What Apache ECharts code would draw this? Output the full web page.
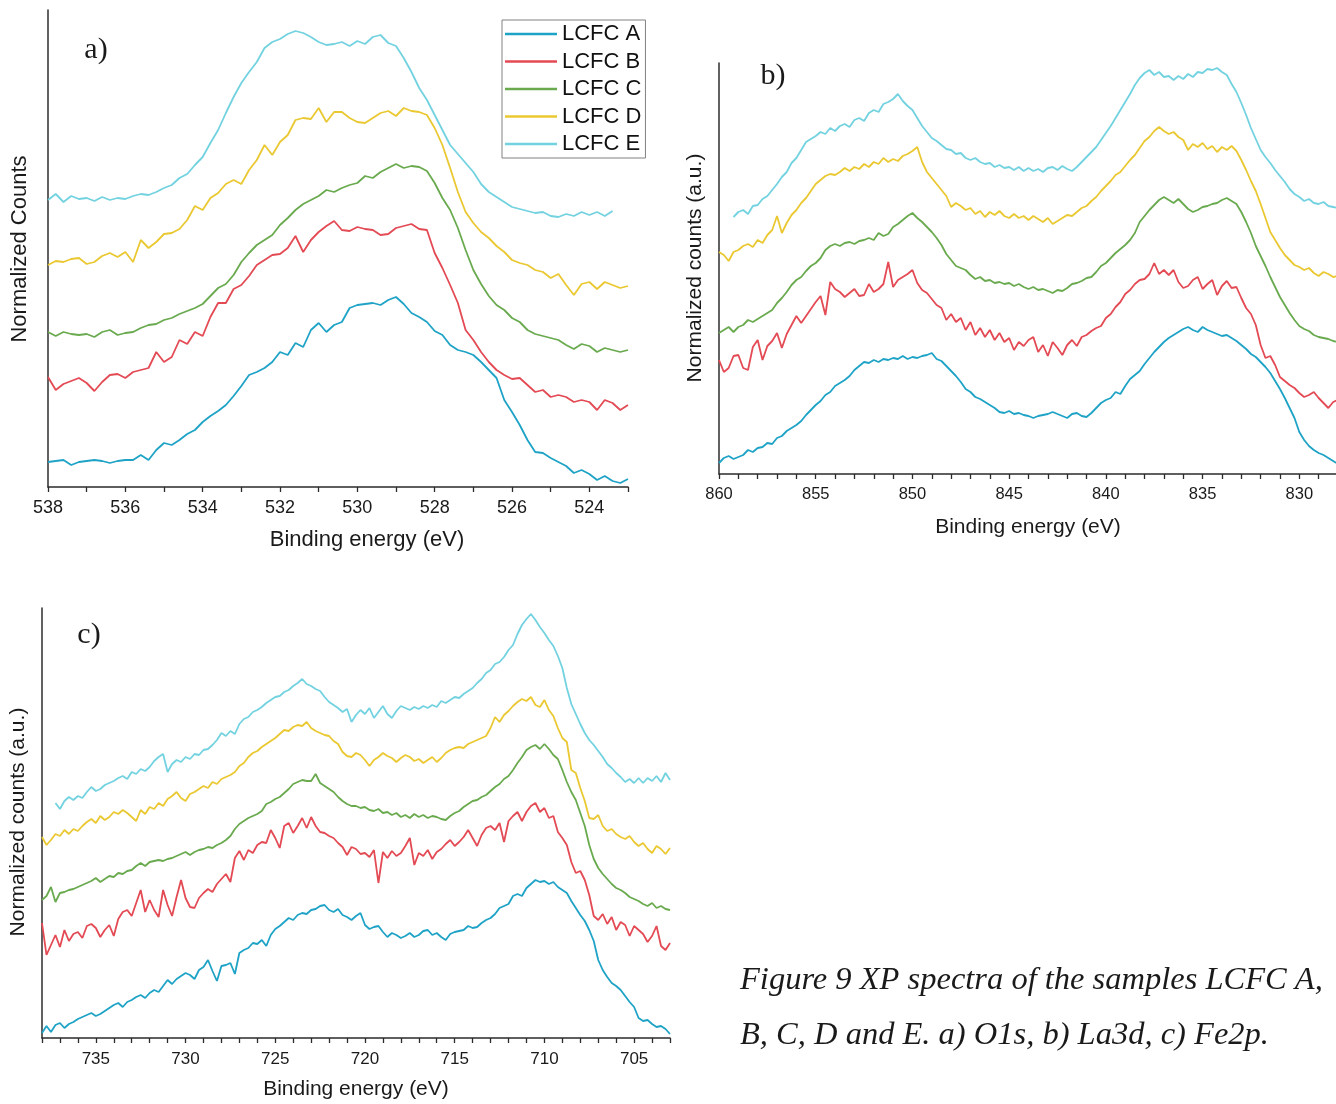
<!DOCTYPE html>
<html>
<head>
<meta charset="utf-8">
<script src="https://cdn.jsdelivr.net/npm/echarts@6/dist/echarts.min.js"></script>
<style>
  html, body { margin: 0; padding: 0; background: #fff; }
  #chart { width: 1336px; height: 1104px; }
</style>
</head>
<body>
<div id="chart"></div>
<script>
// Sample names and line colours
const SAMPLES = ['LCFC A', 'LCFC B', 'LCFC C', 'LCFC D', 'LCFC E'];
const COLORS = ['#1ea3c6', '#e34a54', '#6aaa4f', '#eac832', '#72d2e0'];

// a) O1s region: binding energy grid (eV) and normalized intensities (a.u., stacked offsets)
const O1S_START = 538, O1S_STEP = 0.2;
const o1sA = [25,26,27,22,25,26,27,26,24,26, 27,27,32,27,37,44,42,47,53,57, 65,71,76,82,91,101,112,115,119,125,
  135,132,144,140,157,164,155,162,165,179, 182,183,184,182,187,190,183,174,170,165, 156,152,142,137,135,132,125,117,109,87,
  75,62,47,35,34,29,25,21,14,17, 13,7,11,6,4,8];
const o1sB = [110,97,103,106,109,104,96,105,112,113, 109,115,117,119,135,125,130,147,143,155, 151,170,184,184,198,202,211,222,227,232,
  233,239,251,235,247,255,261,266,257,256, 260,258,257,252,253,259,261,263,258,257, 234,219,202,184,157,147,135,125,117,112,
  108,109,102,95,97,90,92,90,85,87, 85,77,87,84,77,82];
const o1sC = [155,151,155,153,152,153,150,155,157,152, 154,155,159,162,163,167,169,173,176,179, 183,191,199,203,212,225,234,242,247,252,
  262,269,277,283,287,291,297,295,299,302, 304,311,309,315,319,323,319,321,320,316, 304,289,277,259,237,217,203,191,182,177,
  169,165,157,153,151,149,147,142,138,143, 141,135,139,137,135,137];
const o1sD = [222,226,225,228,229,223,225,231,234,230, 235,225,247,239,245,253,254,258,267,281, 277,289,294,303,307,303,317,327,342,332,
  345,352,367,369,368,379,365,375,375,369, 365,364,369,374,376,371,379,376,375,372, 359,342,319,295,275,264,255,249,241,235,
  227,224,222,217,215,209,213,202,192,203, 205,198,205,202,199,201];
const o1sE = [287,293,285,291,288,289,286,290,287,289, 288,291,293,292,295,299,302,309,313,322, 330,344,357,374,390,404,415,425,439,445,
  448,453,456,454,450,445,442,443,445,441, 446,443,450,452,444,441,429,415,399,387, 372,357,342,333,324,315,303,295,290,285,
  280,278,276,274,275,271,270,273,271,275, 272,275,271,276];

// b) La3d region
const LA3D_START = 860, LA3D_STEP = 0.25;
const la3dA = [11,16,18,15,17,19,24,22,26,27, 31,30,36,38,43,46,49,53,59,64, 69,73,79,82,88,91,94,98,104,108,
  112,111,114,112,115,114,116,115,118,115, 117,116,118,119,121,115,113,108,103,98, 92,85,82,77,75,72,69,66,62,61,
  63,60,61,59,58,56,58,59,60,62, 60,58,56,60,61,58,57,61,66,71, 74,76,82,80,88,95,99,103,110,116,
  122,127,132,136,139,142,145,147,144,142, 147,144,142,140,138,139,136,133,129,125, 120,117,112,107,101,93,85,76,66,56,
  42,34,28,24,21,19,16,13,10];
const la3dB = [114,102,106,118,119,106,104,127,134,114, 128,133,141,126,140,149,158,151,158,165, 172,178,159,192,185,182,177,181,185,178,
  179,190,182,185,190,212,187,194,197,200, 204,191,184,181,175,169,166,154,160,152, 156,144,152,139,146,137,144,134,141,132,
  136,124,132,128,134,137,122,129,118,132, 126,119,129,134,128,137,139,143,146,148, 156,160,167,172,180,184,190,194,195,200,
  211,200,204,199,204,192,186,188,194,197, 185,190,194,179,188,193,186,187,176,166, 160,149,129,116,118,109,97,93,89,86,
  81,77,79,82,76,71,66,72,74];
const la3dC = [141,144,147,142,147,149,154,152,155,158, 161,164,171,176,182,189,194,197,203,208, 211,216,224,228,230,228,231,232,230,233,
  234,236,234,241,238,240,247,250,254,258, 261,256,252,247,242,236,229,220,214,208, 206,204,199,195,197,193,194,191,192,190,
  191,188,190,187,185,187,184,185,183,181, 184,183,186,190,191,193,196,197,202,208, 211,216,221,225,229,234,241,252,258,264,
  269,274,277,274,271,275,270,265,262,264, 267,268,270,271,274,276,273,270,262,252, 241,228,218,208,197,187,177,169,161,154,
  148,145,143,139,137,136,135,133,132];
const la3dD = [222,219,213,222,224,228,230,227,234,231, 239,244,258,241,251,259,264,271,276,283, 290,294,298,300,299,302,306,303,307,305,
  310,307,312,310,316,312,315,313,318,320, 323,327,312,302,296,290,284,278,267,271, 268,264,266,260,263,257,262,259,263,258,
  256,260,256,258,254,258,255,252,256,250, 253,256,259,258,262,266,268,273,277,283, 288,293,299,302,308,314,319,326,333,337,
  343,347,343,340,342,337,334,324,330,327, 331,325,328,322,327,324,328,323,314,304, 293,283,270,256,242,234,226,219,214,209,
  207,204,206,201,198,202,200,197,198];
const la3dE = [null,null,null,257,262,264,260,268,269,275, 278,284,290,297,302,311,316,324,332,335, 338,342,340,346,343,348,350,347,354,356,
  353,361,364,362,370,372,375,380,373,368, 364,356,348,342,336,333,329,325,324,320, 321,316,314,316,312,310,311,307,309,306,
  307,304,307,303,306,303,305,302,306,307, 304,308,305,303,307,312,317,322,327,334, 341,348,356,364,372,380,389,396,401,404,
  399,402,397,398,394,398,395,400,397,402, 401,405,404,406,402,399,390,382,371,359, 346,335,324,317,311,304,298,292,285,280,
  277,273,275,271,270,272,268,267,266];

// c) Fe2p region
const FE2P_START = 738, FE2P_STEP = 0.25;
const fe2pA = [5,12,6,13,15,10,14,16,19,21, 23,25,22,24,27,30,33,35,31,36, 38,41,43,40,45,48,46,52,58,54,
  59,62,65,63,59,68,71,78,67,57, 72,73,75,64,85,88,90,95,94,98, 92,103,109,112,116,120,118,123,125,124,
  128,129,132,133,128,126,129,123,121,118, 122,125,113,109,111,112,106,101,105,103, 100,102,105,101,103,107,108,103,105,101,
  98,104,106,107,108,112,110,111,115,118, 120,124,130,132,134,142,144,142,150,154, 158,156,157,154,156,151,148,145,137,130,
  123,117,108,97,78,68,61,55,52,48, 42,36,31,20,17,18,14,11,12,9, 4];
const fe2pB = [115,83,93,103,91,108,97,104,106,100, 112,114,110,101,108,113,102,119,126,128, 122,135,148,126,138,128,121,148,133,122,
  141,158,140,131,130,140,145,149,146,154, 159,164,156,180,187,178,188,185,193,196, 195,208,200,190,212,215,205,212,220,210,
  221,212,206,205,202,200,195,191,183,191, 189,184,185,181,188,155,186,180,187,182, 185,192,200,173,185,182,188,179,186,189,
  194,198,192,196,201,208,200,192,203,210, 212,208,215,196,217,222,226,217,226,232, 235,226,230,220,222,206,200,193,176,165,
  167,158,143,122,118,124,114,121,108,116, 113,102,112,108,104,96,102,112,92,88, 95];
const fe2pC = [138,142,151,136,145,146,148,149,151,153, 155,157,160,156,159,162,161,165,164,167, 168,172,175,172,176,177,178,177,179,180,
  182,184,186,183,186,188,189,191,190,193, 195,198,202,209,214,217,220,222,224,227, 234,236,239,241,245,249,254,256,258,257,
  257,264,255,252,249,246,241,237,234,232, 232,230,231,228,227,229,225,226,223,225, 221,223,220,224,221,223,220,222,221,219,
  218,222,225,227,231,234,237,238,241,243, 247,251,254,259,262,268,275,281,288,291, 293,289,294,289,283,279,268,256,246,238,
  225,212,193,179,170,164,159,154,150,148, 145,141,139,137,134,132,135,130,132,129, 128];
const fe2pD = [201,193,198,204,202,208,204,209,207,212, 216,219,215,222,218,221,226,224,228,225, 221,217,228,224,231,229,235,232,239,242,
  246,240,237,244,246,249,252,250,256,254, 259,261,263,266,272,275,281,285,287,291, 294,297,300,304,308,307,311,313,312,316,
  310,307,305,303,302,297,294,286,282,281, 285,283,278,272,278,281,285,282,280,276, 280,283,281,277,279,275,278,281,276,280,
  285,288,290,291,290,294,296,298,300,302, 310,321,316,323,327,332,336,339,337,341, 333,331,338,328,322,310,300,296,268,265,
  250,237,220,219,223,212,207,209,204,201, 199,202,196,192,195,189,185,192,189,184, 190];
const fe2pE = [null,null,null,235,229,237,241,238,242,240, 246,251,247,249,253,255,257,260,262,259, 266,264,269,267,271,277,281,284,266,274,
  278,276,281,279,284,283,288,289,293,298, 305,302,307,304,314,319,321,326,328,331, 335,338,341,342,346,348,352,355,359,354,
  352,349,347,341,336,333,330,326,329,316, 323,328,324,330,320,326,332,324,320,327, 332,330,328,331,329,332,330,333,331,337,
  335,338,341,340,344,347,350,355,359,365, 368,374,376,381,388,393,404,413,419,424, 418,411,405,398,392,382,370,350,334,324,
  314,305,298,293,287,281,274,270,265,261, 256,259,255,260,255,260,257,262,256,265, 258];

// Axis extents and label spacing (eV)
const O1S_RANGE = [523, 538], O1S_LABEL_EVERY = 2;
const LA3D_RANGE = [828, 860], LA3D_LABEL_EVERY = 5;
const FE2P_RANGE = [703, 738], FE2P_LABEL_EVERY = 5;

// Pair each intensity with its binding energy on the scan grid
function toPairs(start, step, values) {
  return values.map((v, i) => [+(start - i * step).toFixed(3), v]);
}

const FONT_SANS = '"Liberation Sans", Arial, sans-serif';
const FONT_SERIF = '"Liberation Serif", "Times New Roman", serif';
const AXIS_COLOR = '#2b2b2b';

function xAxisFor(gridIndex, range, labelEvery, fontSize, margin) {
  return {
    type: 'value', gridIndex, inverse: true,
    min: range[0], max: range[1], interval: 1,
    axisLine: { show: true, onZero: false, lineStyle: { color: AXIS_COLOR, width: 1.5 } },
    axisTick: { show: true, inside: false, length: 5, lineStyle: { color: AXIS_COLOR, width: 1.3 } },
    axisLabel: {
      show: true, margin, fontSize, fontFamily: FONT_SANS, color: '#1a1a1a',
      showMinLabel: true, showMaxLabel: true,
      formatter: v => (Math.round(v) % labelEvery === 0 ? String(Math.round(v)) : '')
    },
    splitLine: { show: false }
  };
}

function yAxisFor(gridIndex, top) {
  return {
    type: 'value', gridIndex, min: 0, max: top,
    axisLine: { show: true, onZero: false, lineStyle: { color: '#3a3a3a', width: 1.6 } },
    axisTick: { show: false }, axisLabel: { show: false }, splitLine: { show: false }
  };
}

const panels = [
  { start: O1S_START, step: O1S_STEP, sets: [o1sA, o1sB, o1sC, o1sD, o1sE] },
  { start: LA3D_START, step: LA3D_STEP, sets: [la3dA, la3dB, la3dC, la3dD, la3dE] },
  { start: FE2P_START, step: FE2P_STEP, sets: [fe2pA, fe2pB, fe2pC, fe2pD, fe2pE] }
];

const series = [];
panels.forEach((p, gi) => {
  p.sets.forEach((vals, si) => {
    series.push({
      type: 'line', name: SAMPLES[si],
      xAxisIndex: gi, yAxisIndex: gi,
      data: toPairs(p.start, p.step, vals),
      symbol: 'none', showSymbol: false, connectNulls: false,
      lineStyle: { color: COLORS[si], width: 1.8 },
      itemStyle: { color: COLORS[si] },
      emphasis: { disabled: true }
    });
  });
});

function label(text, x, y, font, rotation) {
  return {
    type: 'text', x, y, rotation: rotation || 0,
    style: {
      text, font, fill: '#1a1a1a',
      align: 'center', verticalAlign: 'middle',
      textAlign: 'center', textVerticalAlign: 'middle'
    }
  };
}
function leftText(text, x, y, font) {
  return {
    type: 'text', x, y,
    style: {
      text, font, fill: '#1a1a1a',
      align: 'left', verticalAlign: 'middle',
      textAlign: 'left', textVerticalAlign: 'middle'
    }
  };
}

const chart = echarts.init(document.getElementById('chart'), null, { renderer: 'canvas' });
chart.setOption({
  animation: false,
  backgroundColor: '#ffffff',
  grid: [
    { left: 48, top: 10, width: 580, height: 477, outerBoundsMode: 'none' },
    { left: 719, top: 63, width: 619, height: 411, outerBoundsMode: 'none' },
    { left: 42, top: 608, width: 628, height: 430, outerBoundsMode: 'none' }
  ],
  xAxis: [
    xAxisFor(0, O1S_RANGE, O1S_LABEL_EVERY, 18, 12),
    xAxisFor(1, LA3D_RANGE, LA3D_LABEL_EVERY, 16.5, 12),
    xAxisFor(2, FE2P_RANGE, FE2P_LABEL_EVERY, 17, 13)
  ],
  yAxis: [yAxisFor(0, 477), yAxisFor(1, 411), yAxisFor(2, 430)],
  legend: {
    data: SAMPLES, orient: 'vertical', left: 502, top: 20,
    icon: 'rect', itemWidth: 52, itemHeight: 2.4, itemGap: 5.5,
    padding: [3, 4, 3, 3],
    borderColor: '#808080', borderWidth: 1, backgroundColor: '#ffffff',
    textStyle: { fontFamily: FONT_SANS, fontSize: 22, color: '#111', lineHeight: 22 },
    selectedMode: false
  },
  series,
  graphic: [
    label('a)', 96, 50, '30px ' + FONT_SERIF),
    label('b)', 773, 76, '30px ' + FONT_SERIF),
    label('c)', 89, 635, '30px ' + FONT_SERIF),
    label('Binding energy (eV)', 367, 540, '22px ' + FONT_SANS),
    label('Binding energy (eV)', 1028, 527, '21px ' + FONT_SANS),
    label('Binding energy (eV)', 356, 1089, '21px ' + FONT_SANS),
    label('Normalized Counts', 20, 249, '22px ' + FONT_SANS, Math.PI / 2),
    label('Normalized counts (a.u.)', 695, 268, '21px ' + FONT_SANS, Math.PI / 2),
    label('Normalized counts (a.u.)', 18, 822, '21px ' + FONT_SANS, Math.PI / 2),
    leftText('Figure 9 XP spectra of the samples LCFC A,', 740, 980, 'italic 32.5px ' + FONT_SERIF),
    leftText('B, C, D and E. a) O1s, b) La3d, c) Fe2p.', 740, 1035, 'italic 32.5px ' + FONT_SERIF)
  ]
});
</script>
</body>
</html>
